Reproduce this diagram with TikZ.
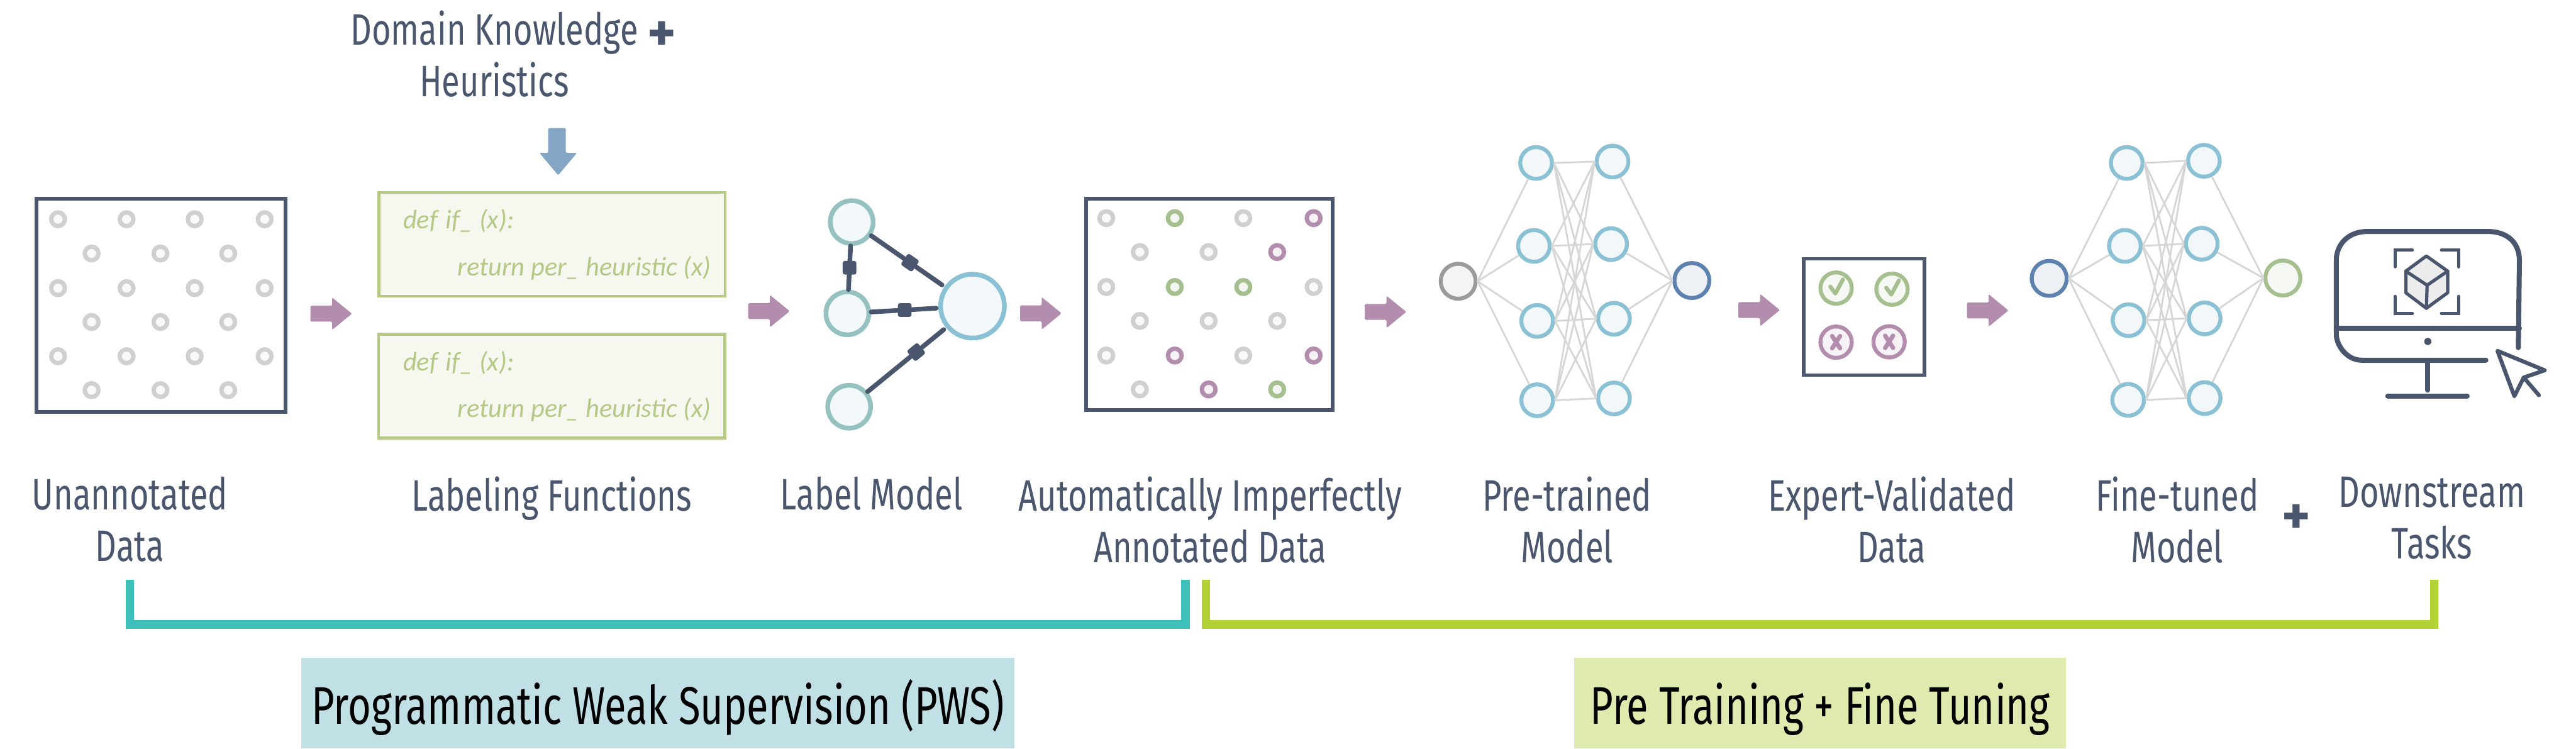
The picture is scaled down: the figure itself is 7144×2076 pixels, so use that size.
\documentclass[tikz,border=0pt]{standalone}
\usepackage{fontspec}
\setmainfont{Fira Sans}[FakeStretch=0.75]
\newfontfamily\handfont{Carlito}
\newfontfamily\plusfont{Fira Sans}
\usetikzlibrary{positioning,calc}
\definecolor{wsslate}{HTML}{4A566D}
\definecolor{wsgrayline}{HTML}{D6D6D6}
\definecolor{wsgray}{HTML}{D0D0D0}
\definecolor{wssteel}{HTML}{9B9B9B}
\definecolor{wspurple}{HTML}{B38DAE}
\definecolor{wsgreen}{HTML}{A5BF8E}
\definecolor{wsolive}{HTML}{B5C886}
\definecolor{wsblue}{HTML}{84A5C4}
\definecolor{wssky}{HTML}{8BC1D4}
\definecolor{wsteal}{HTML}{95C2C0}
\definecolor{wsnavy}{HTML}{5E82B0}
\definecolor{wsbracketa}{HTML}{3CC0B9}
\definecolor{wsbracketb}{HTML}{B2D235}
\definecolor{wscapa}{HTML}{C0E0E5}
\definecolor{wscapb}{HTML}{DFEAAE}
\newcommand{\plusmark}{{\plusfont\bfseries\fontsize{150}{150}\selectfont +}}
\tikzset{
    flowarrow/.pic={\fill[wspurple, rounded corners=3pt] (0,-22) -- (60,-22) -- (60,-45) -- (115,0) -- (60,45) -- (60,22) -- (0,22) -- cycle;}
}

\begin{document}
\begin{tikzpicture}[
    x=1pt, y=-1pt,
    sheet/.style={draw=wsslate, line width=10pt, minimum width=#1, inner sep=0pt},
    fnbox/.style={draw=wsolive, line width=8pt, fill=wsolive!12, minimum width=960pt, minimum height=288pt, inner sep=0pt},
    fntext/.style={text=wsolive, font=\handfont\itshape\fontsize{74}{74}\selectfont, anchor=base west, inner sep=0pt},
    pt/.style={circle, draw=#1, line width=12pt, fill=#1!12, minimum size=38pt, inner sep=0pt},
    lmnode/.style={circle, draw=wsteal, line width=13pt, fill=wssky!10, minimum size=119pt, inner sep=0pt},
    lmedge/.style={wsslate, line width=13pt, line cap=round},
    lmknob/.style={fill=wsslate, rounded corners=6pt, minimum size=38pt, inner sep=0pt},
    nnnode/.style={circle, draw=#1, line width=11pt, fill=#1!11, minimum size=88pt, inner sep=0pt},
    nnedge/.style={wsgrayline, line width=5pt},
    tick/.style={circle, draw=#1, line width=11pt, fill=#1!11, minimum size=87pt, inner sep=0pt},
    stage/.style={text=wsslate, font=\fontsize{122}{143}\selectfont, align=center, anchor=north, inner sep=0pt},
    bracket/.style={line width=23pt, miter limit=10},
    capbox/.style={text=black, font=\fontsize{147}{170}\selectfont, minimum height=252pt, inner sep=0pt},
    screen/.style={wsslate, line width=14pt, line cap=round, line join=round}
]
    \useasboundingbox (0,0) rectangle (7144,2076);

    % Unannotated data
    \node[sheet=691pt, minimum height=592pt] (rawdata) at (446.5,847) {};
    \foreach \y [count=\r] in {608,799,988}
        \foreach \x [count=\c] in {161,351,540,734}
            \node[pt=wsgray] (raw-a\r\c) at (\x,\y) {};
    \foreach \y [count=\r] in {703,893,1082}
        \foreach \x [count=\c] in {254,445,633}
            \node[pt=wsgray] (raw-b\r\c) at (\x,\y) {};

    % Domain knowledge
    \node[stage] (domain) at (1371,29) {Domain Knowledge\\Heuristics};
    \node[stage, anchor=base] (domain-plus) at (1835,142) {\plusmark};
    \fill[wsblue, rounded corners=3pt] (1520,355) -- (1569,355) -- (1569,424) -- (1600,424) -- (1548,486) -- (1496,424) -- (1520,424) -- cycle;

    % Labeling functions
    \node[fnbox] (lfa) at (1531,677.5) {};
    \node[fntext] (lfa-def) at (1118,634) {def\hspace{22pt}if\_ (x):};
    \node[fntext] (lfa-ret) at (1269,764) {return per\_ heuristic (x)};
    \node[fnbox] (lfb) at (1530,1070.5) {};
    \node[fntext] (lfb-def) at (1118,1028) {def\hspace{22pt}if\_ (x):};
    \node[fntext] (lfb-ret) at (1269,1158) {return per\_ heuristic (x)};

    % Label model
    \node[lmnode] (lma) at (2362,616) {};
    \node[lmnode] (lmb) at (2350,869) {};
    \node[lmnode] (lmc) at (2355,1128) {};
    \node[lmnode, draw=wssky, minimum size=177pt] (lmout) at (2697,849) {};
    \draw[lmedge] (lma) -- node[lmknob] (knoba) {} (lmb);
    \draw[lmedge, shorten >=6pt] (lmb) -- node[lmknob] (knobb) {} (lmout);
    \draw[lmedge, shorten >=8pt] (lma) -- node[lmknob, sloped, pos=.53] (knobc) {} (lmout);
    \draw[lmedge, shorten >=8pt] (lmc) -- node[lmknob, sloped, pos=.62] (knobd) {} (lmout);

    % Annotated data
    \node[sheet=684pt, minimum height=586pt] (annot) at (3354,844) {};
    \foreach \x/\y/\c [count=\i] in {
        3068/605/wsgray, 3258/605/wsgreen, 3448/605/wsgray, 3643/605/wspurple,
        3161/699/wsgray, 3352/699/wsgray, 3542/699/wspurple,
        3068/796/wsgray, 3258/796/wsgreen, 3448/796/wsgreen, 3643/796/wsgray,
        3161/890/wsgray, 3352/890/wsgray, 3542/890/wsgray,
        3068/986/wsgray, 3258/986/wspurple, 3448/986/wsgray, 3643/986/wspurple,
        3161/1080/wsgray, 3352/1080/wspurple, 3542/1080/wsgreen}
        \node[pt=\c] (ann-\i) at (\x,\y) {};

    % Pre-trained model
    \node[nnnode=wssteel, minimum size=97pt] (prein) at (4044,780) {};
    \node[nnnode=wsnavy, minimum size=97pt] (preout) at (4692,778) {};
    \foreach \x/\y [count=\i] in {4260/452,4254/682,4263/890,4263/1110}
        \node[nnnode=wssky] (prea\i) at (\x,\y) {};
    \foreach \x/\y [count=\i] in {4472/448,4468/677,4476/884,4476/1105}
        \node[nnnode=wssky] (preb\i) at (\x,\y) {};
    \foreach \i in {1,...,4} {
        \draw[nnedge] (prein.east) -- (prea\i);
        \draw[nnedge] (preb\i) -- (preout.west);
        \foreach \j in {1,...,4}
            \draw[nnedge] (prea\i.east) -- (preb\j.west);
    }

    % Expert-validated data
    \node[sheet=334pt, minimum height=323pt] (valid) at (5169.5,879) {};
    \node[tick=wsgreen] (oka) at (5092,799) {};
    \node[tick=wsgreen] (okb) at (5247,802) {};
    \node[tick=wspurple] (noa) at (5092,949) {};
    \node[tick=wspurple] (nob) at (5239,948) {};
    \foreach \n in {oka,okb}
        \draw[wsgreen, line width=11pt, line cap=round, line join=round] ($(\n)+(-16,-4)$) -- ($(\n)+(-2,15)$) -- ($(\n)+(19,-24)$);
    \foreach \n in {noa,nob}
        \draw[wspurple, line width=12pt, line cap=round] ($(\n)+(-11,-17)$) -- ($(\n)+(11,17)$) ($(\n)+(11,-17)$) -- ($(\n)+(-11,17)$);

    % Fine-tuned model
    \node[nnnode=wsnavy, minimum size=97pt] (finein) at (5683,772) {};
    \node[nnnode=wsgreen, minimum size=97pt] (fineout) at (6331,771) {};
    \foreach \x/\y [count=\i] in {5898/452,5893/682,5903/888,5902/1109}
        \node[nnnode=wssky] (finea\i) at (\x,\y) {};
    \foreach \x/\y [count=\i] in {6112/446,6106/676,6114/883,6114/1104}
        \node[nnnode=wssky] (fineb\i) at (\x,\y) {};
    \foreach \i in {1,...,4} {
        \draw[nnedge] (finein.east) -- (finea\i);
        \draw[nnedge] (fineb\i) -- (fineout.west);
        \foreach \j in {1,...,4}
            \draw[nnedge] (finea\i.east) -- (fineb\j.west);
    }

    % Monitor and cursor
    \draw[screen] (6984,964) -- (6987,723) .. controls (6987,670) and (6950,642) .. (6900,642) -- (6565,642)
        .. controls (6510,642) and (6479,680) .. (6479,723) -- (6479,925) .. controls (6479,960) and (6510,999) .. (6549,999) -- (6894,999);
    \draw[screen] (6479,911) -- (6987,911);
    \draw[screen] (6733,999) -- (6733,1082);
    \draw[screen] (6622,1098) -- (6842,1098);
    \fill[wsslate] (6733,947) ellipse (10 and 10);
    \draw[wsslate, line width=9pt, line cap=round, fill=gray!15, line join=round] (6729,710) -- (6788,752) -- (6788,812) -- (6729,855) -- (6672,812) -- (6672,752) -- cycle;
    \draw[wsslate, line width=9pt, line cap=round, line join=round] (6672,752) -- (6731,791) -- (6788,752) (6731,791) -- (6729,855);
    \draw[wsslate, line width=9pt, line cap=round] (6690,694) -- (6643,694) -- (6643,740);
    \draw[wsslate, line width=9pt, line cap=round] (6771,694) -- (6818,694) -- (6818,740);
    \draw[wsslate, line width=9pt, line cap=round] (6690,869) -- (6643,869) -- (6643,822);
    \draw[wsslate, line width=9pt, line cap=round] (6771,869) -- (6818,869) -- (6818,822);
    \draw[wsslate, line width=11pt, line join=round, line cap=round] (6926,973) -- (6973,1099) -- (6999,1047) -- (7057,1027) -- cycle;
    \draw[wsslate, line width=11pt, line cap=round] (6999,1047) -- (7041,1096);

    % Flow arrows
    \pic at (861,870) {flowarrow};
    \pic at (2075,863) {flowarrow};
    \pic at (2829,869) {flowarrow};
    \pic at (3785,865) {flowarrow};
    \pic at (4821,860) {flowarrow};
    \pic at (5455,861) {flowarrow};

    % Labels
    \node[stage] (l-raw) at (360,1322) {Unannotated\\Data};
    \node[stage] (l-lf) at (1530,1322) {Labeling Functions};
    \node[stage] (l-lm) at (2417,1322) {Label Model};
    \node[stage] (l-ann) at (3356,1322) {Automatically Imperfectly\\Annotated Data};
    \node[stage] (l-pre) at (4346,1322) {Pre-trained\\Model};
    \node[stage] (l-val) at (5246,1322) {Expert-Validated\\Data};
    \node[stage] (l-fine) at (6038,1322) {Fine-tuned\\Model};
    \node[stage, anchor=base] (l-plus) at (6368,1481) {\plusmark};
    \node[stage] (l-task) at (6744,1322) {Downstream\\Tasks};

    % Brackets
    \coordinate (pwsa) at (360.5,1608);
    \coordinate (pwsb) at (3287.5,1608);
    \coordinate (pfta) at (3344,1608);
    \coordinate (pftb) at (6751,1608);
    \draw[bracket, wsbracketa] (pwsa) -- ++(0,124) -| (pwsb);
    \draw[bracket, wsbracketb] (pfta) -- ++(0,124) -| (pftb);

    % Captions
    \node[capbox, fill=wscapa, minimum width=1977pt] (pws) at (1824.5,1950) {\smash{\raisebox{-59pt}{Programmatic Weak Supervision (PWS)}}};
    \node[capbox, fill=wscapb, minimum width=1364pt] (pft) at (5048,1950) {\smash{\raisebox{-59pt}{Pre Training + Fine Tuning}}};
\end{tikzpicture}
\end{document}
